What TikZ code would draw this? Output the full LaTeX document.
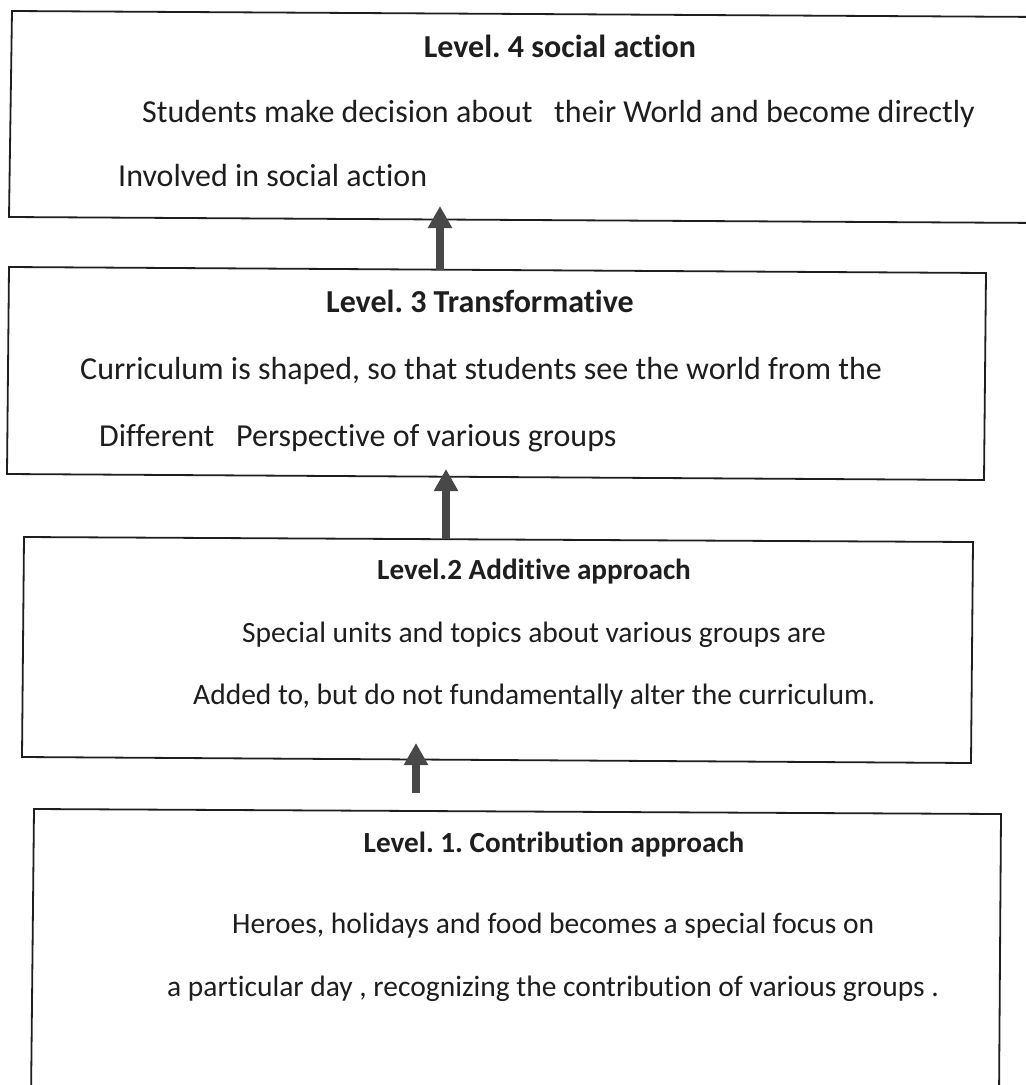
\documentclass[tikz,border=0pt]{standalone}
\usepackage{fontspec}
\setmainfont{Carlito}[Ligatures=NoCommon]
\usetikzlibrary{arrows.meta}
\definecolor{ink}{RGB}{30,30,30}
\definecolor{arrowgray}{RGB}{72,72,72}
\frenchspacing
\begin{document}
\begin{tikzpicture}[x=1pt,y=-1pt,
  levelbox/.style={draw=ink,line width=1.8pt},
  title/.style={font=\fontsize{32}{38}\selectfont\bfseries,text=ink,inner sep=0pt,anchor=mid},
  body/.style={font=\fontsize{32}{38}\selectfont,text=ink,inner sep=0pt,anchor=mid west},
  smalltitle/.style={title,font=\fontsize{29.2}{35}\selectfont\bfseries},
  smallbody/.style={body,font=\fontsize{29.5}{35}\selectfont},
  uparrow/.style={draw=arrowgray,line width=8.5pt,-{Triangle[length=22pt,width=23pt]}}]
\clip (0,0) rectangle (1026,1085);
\fill[white] (0,0) rectangle (1026,1085);

% Level 4 box (runs off the right edge)
\draw[levelbox] (12,11) -- (1045,17) -- (1045,223) -- (9,217) -- cycle;
\node[title] (t4) at (560,55) {Level. 4 social action};
\node[body] (l4a) at (142,120) {Students make decision about \ \ their World and become directly};
\node[body] (l4b) at (118,184) {Involved in social action};

% Level 3 box
\draw[levelbox] (9,267) -- (986,273) -- (984,480) -- (7,474) -- cycle;
\node[title] (t3) at (480,310) {Level. 3 Transformative};
\node[body] (l3a) at (80,377) {Curriculum is shaped, so that students see the world from the};
\node[body] (l3b) at (99,444) {Different \ \ Perspective of various groups};

% Level 2 box
\draw[levelbox] (24,537) -- (973,542) -- (971,763) -- (22,757) -- cycle;
\node[smalltitle] (t2) at (534,577) {Level.2 Additive approach};
\node[smallbody] (l2a) at (242,640) {Special units and topics about various groups are};
\node[smallbody] (l2b) at (193,702) {Added to, but do not fundamentally alter the curriculum.};

% Level 1 box (runs off the bottom edge)
\draw[levelbox] (34,809) -- (1001,814) -- (999,1100) -- (31,1100) -- cycle;
\node[smalltitle] (t1) at (554,850) {Level. 1. Contribution approach};
\node[smallbody] (l1a) at (232,931) {Heroes, holidays and food becomes a special focus on};
\node[smallbody] (l1b) at (167,994) {a particular day , recognizing the contribution of various groups .};

% Upward arrows between the levels
\coordinate (a1tail) at (440,270);
\coordinate (a1head) at (440,206);
\coordinate (a2tail) at (446,539);
\coordinate (a2head) at (446,469);
\coordinate (a3tail) at (416,793);
\coordinate (a3head) at (416,743);
\draw[uparrow] (a1tail) -- (a1head);
\draw[uparrow] (a2tail) -- (a2head);
\draw[uparrow] (a3tail) -- (a3head);
\end{tikzpicture}
\end{document}
